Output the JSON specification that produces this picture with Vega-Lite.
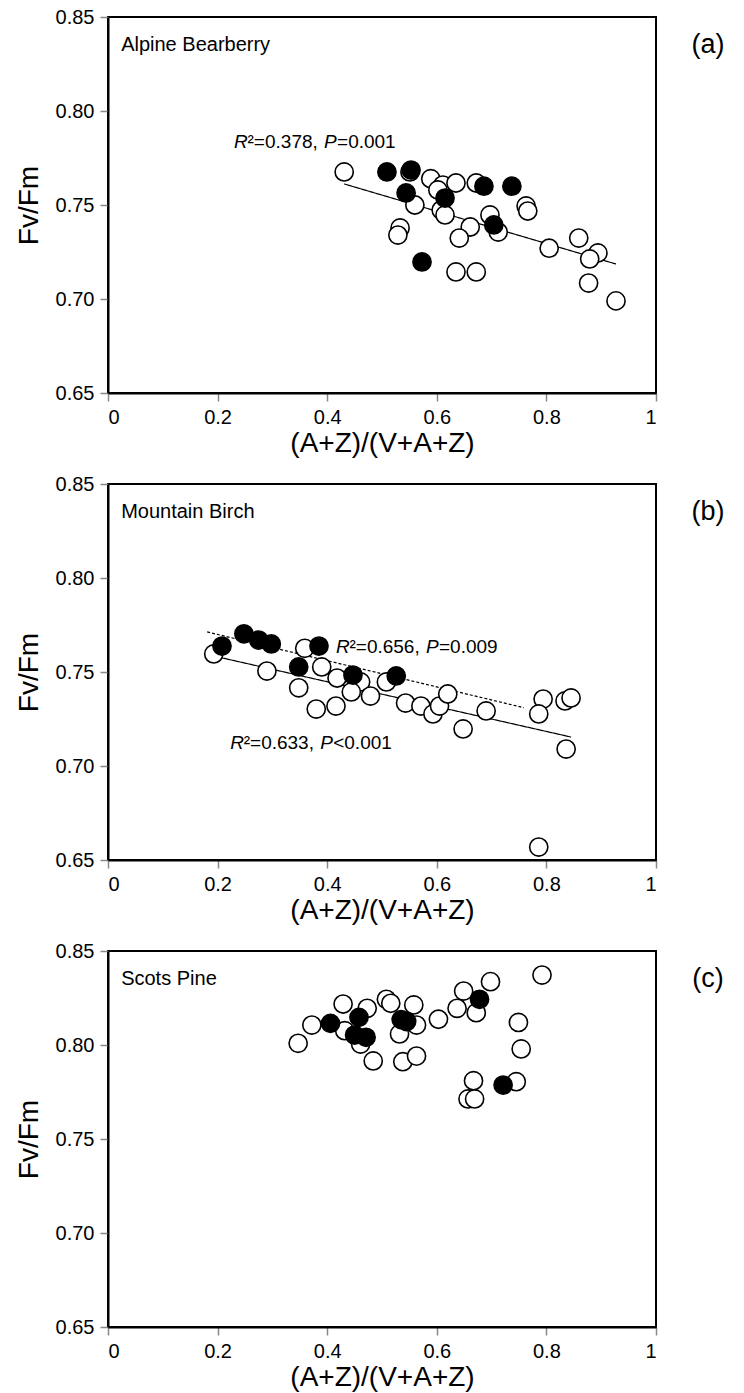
{
  "$schema": "https://vega.github.io/schema/vega-lite/v6.json",
  "padding": {"left": 14, "top": 6, "right": 5, "bottom": 5},
  "spacing": 15,
  "config": {
    "font": "Liberation Sans",
    "view": {"stroke": "black", "strokeWidth": 2},
    "axis": {"grid": false, "domainColor": "black", "domainWidth": 2, "tickColor": "#888888", "tickSize": 8, "tickWidth": 1.5, "labelFontSize": 20, "labelColor": "black", "labelPadding": 6, "titleFontSize": 28, "titleFontWeight": "normal", "titleColor": "black"},
    "axisY": {"titlePadding": 12},
    "axisX": {"titlePadding": 2}
  },
  "datasets": {
    "pts": [
      {"p": "a", "k": "open", "x": 0.431, "y": 0.7676},
      {"p": "a", "k": "open", "x": 0.551, "y": 0.7676},
      {"p": "a", "k": "open", "x": 0.589, "y": 0.764},
      {"p": "a", "k": "open", "x": 0.611, "y": 0.7606},
      {"p": "a", "k": "open", "x": 0.602, "y": 0.758},
      {"p": "a", "k": "open", "x": 0.635, "y": 0.7617},
      {"p": "a", "k": "open", "x": 0.672, "y": 0.7617},
      {"p": "a", "k": "open", "x": 0.56, "y": 0.75},
      {"p": "a", "k": "open", "x": 0.608, "y": 0.7473},
      {"p": "a", "k": "open", "x": 0.615, "y": 0.7447},
      {"p": "a", "k": "open", "x": 0.763, "y": 0.7495},
      {"p": "a", "k": "open", "x": 0.766, "y": 0.7468},
      {"p": "a", "k": "open", "x": 0.697, "y": 0.7447},
      {"p": "a", "k": "open", "x": 0.661, "y": 0.7383},
      {"p": "a", "k": "open", "x": 0.712, "y": 0.7356},
      {"p": "a", "k": "open", "x": 0.533, "y": 0.7378},
      {"p": "a", "k": "open", "x": 0.529, "y": 0.734},
      {"p": "a", "k": "open", "x": 0.641, "y": 0.7324},
      {"p": "a", "k": "open", "x": 0.805, "y": 0.727},
      {"p": "a", "k": "open", "x": 0.859, "y": 0.7324},
      {"p": "a", "k": "open", "x": 0.894, "y": 0.7245},
      {"p": "a", "k": "open", "x": 0.879, "y": 0.7213},
      {"p": "a", "k": "open", "x": 0.635, "y": 0.7144},
      {"p": "a", "k": "open", "x": 0.672, "y": 0.7144},
      {"p": "a", "k": "open", "x": 0.877, "y": 0.7085},
      {"p": "a", "k": "open", "x": 0.927, "y": 0.699},
      {"p": "a", "k": "filled", "x": 0.509, "y": 0.7676},
      {"p": "a", "k": "filled", "x": 0.553, "y": 0.7686},
      {"p": "a", "k": "filled", "x": 0.544, "y": 0.7564},
      {"p": "a", "k": "filled", "x": 0.615, "y": 0.7537},
      {"p": "a", "k": "filled", "x": 0.686, "y": 0.76},
      {"p": "a", "k": "filled", "x": 0.737, "y": 0.76},
      {"p": "a", "k": "filled", "x": 0.704, "y": 0.7394},
      {"p": "a", "k": "filled", "x": 0.573, "y": 0.7197},

      {"p": "b", "k": "open", "x": 0.193, "y": 0.7596},
      {"p": "b", "k": "open", "x": 0.29, "y": 0.7505},
      {"p": "b", "k": "open", "x": 0.348, "y": 0.7416},
      {"p": "b", "k": "open", "x": 0.359, "y": 0.7626},
      {"p": "b", "k": "open", "x": 0.39, "y": 0.7527},
      {"p": "b", "k": "open", "x": 0.418, "y": 0.7468},
      {"p": "b", "k": "open", "x": 0.461, "y": 0.7447},
      {"p": "b", "k": "open", "x": 0.444, "y": 0.7394},
      {"p": "b", "k": "open", "x": 0.479, "y": 0.7372},
      {"p": "b", "k": "open", "x": 0.508, "y": 0.7447},
      {"p": "b", "k": "open", "x": 0.543, "y": 0.7335},
      {"p": "b", "k": "open", "x": 0.38, "y": 0.7303},
      {"p": "b", "k": "open", "x": 0.416, "y": 0.7319},
      {"p": "b", "k": "open", "x": 0.571, "y": 0.7319},
      {"p": "b", "k": "open", "x": 0.593, "y": 0.7277},
      {"p": "b", "k": "open", "x": 0.605, "y": 0.7319},
      {"p": "b", "k": "open", "x": 0.62, "y": 0.7383},
      {"p": "b", "k": "open", "x": 0.648, "y": 0.7197},
      {"p": "b", "k": "open", "x": 0.69, "y": 0.7293},
      {"p": "b", "k": "open", "x": 0.794, "y": 0.7356},
      {"p": "b", "k": "open", "x": 0.786, "y": 0.7277},
      {"p": "b", "k": "open", "x": 0.834, "y": 0.7346},
      {"p": "b", "k": "open", "x": 0.845, "y": 0.7362},
      {"p": "b", "k": "open", "x": 0.836, "y": 0.709},
      {"p": "b", "k": "open", "x": 0.786, "y": 0.6569},
      {"p": "b", "k": "filled", "x": 0.208, "y": 0.7638},
      {"p": "b", "k": "filled", "x": 0.248, "y": 0.7703},
      {"p": "b", "k": "filled", "x": 0.275, "y": 0.767},
      {"p": "b", "k": "filled", "x": 0.298, "y": 0.7649},
      {"p": "b", "k": "filled", "x": 0.348, "y": 0.7527},
      {"p": "b", "k": "filled", "x": 0.385, "y": 0.7638},
      {"p": "b", "k": "filled", "x": 0.447, "y": 0.7484},
      {"p": "b", "k": "filled", "x": 0.526, "y": 0.7479},

      {"p": "c", "k": "open", "x": 0.347, "y": 0.8009},
      {"p": "c", "k": "open", "x": 0.372, "y": 0.8106},
      {"p": "c", "k": "open", "x": 0.429, "y": 0.8218},
      {"p": "c", "k": "open", "x": 0.432, "y": 0.8076},
      {"p": "c", "k": "open", "x": 0.473, "y": 0.8195},
      {"p": "c", "k": "open", "x": 0.461, "y": 0.8005},
      {"p": "c", "k": "open", "x": 0.484, "y": 0.7915},
      {"p": "c", "k": "open", "x": 0.508, "y": 0.8243},
      {"p": "c", "k": "open", "x": 0.516, "y": 0.8222},
      {"p": "c", "k": "open", "x": 0.558, "y": 0.8213},
      {"p": "c", "k": "open", "x": 0.563, "y": 0.8106},
      {"p": "c", "k": "open", "x": 0.532, "y": 0.8059},
      {"p": "c", "k": "open", "x": 0.538, "y": 0.7911},
      {"p": "c", "k": "open", "x": 0.563, "y": 0.7941},
      {"p": "c", "k": "open", "x": 0.603, "y": 0.8137},
      {"p": "c", "k": "open", "x": 0.637, "y": 0.8195},
      {"p": "c", "k": "open", "x": 0.649, "y": 0.8287},
      {"p": "c", "k": "open", "x": 0.698, "y": 0.8337},
      {"p": "c", "k": "open", "x": 0.672, "y": 0.8172},
      {"p": "c", "k": "open", "x": 0.792, "y": 0.8372},
      {"p": "c", "k": "open", "x": 0.749, "y": 0.812},
      {"p": "c", "k": "open", "x": 0.754, "y": 0.7979},
      {"p": "c", "k": "open", "x": 0.667, "y": 0.781},
      {"p": "c", "k": "open", "x": 0.657, "y": 0.7713},
      {"p": "c", "k": "open", "x": 0.669, "y": 0.7713},
      {"p": "c", "k": "open", "x": 0.745, "y": 0.7805},
      {"p": "c", "k": "filled", "x": 0.406, "y": 0.8115},
      {"p": "c", "k": "filled", "x": 0.458, "y": 0.8147},
      {"p": "c", "k": "filled", "x": 0.45, "y": 0.8053},
      {"p": "c", "k": "filled", "x": 0.471, "y": 0.8041},
      {"p": "c", "k": "filled", "x": 0.535, "y": 0.8135},
      {"p": "c", "k": "filled", "x": 0.545, "y": 0.8125},
      {"p": "c", "k": "filled", "x": 0.678, "y": 0.8243},
      {"p": "c", "k": "filled", "x": 0.721, "y": 0.7787}
    ],
    "fits": [
      {"p": "a", "d": "solid", "x": 0.431, "y": 0.7612, "x2": 0.927, "y2": 0.7186},
      {"p": "b", "d": "solid", "x": 0.193, "y": 0.7585, "x2": 0.845, "y2": 0.7154},
      {"p": "b", "d": "dashed", "x": 0.181, "y": 0.7713, "x2": 0.759, "y2": 0.731}
    ],
    "ann": [
      {"p": "a", "x": 0.23, "y": 0.7835, "r": "R", "s": "²=0.378,", "q": "P", "v": "=0.001"},
      {"p": "b", "x": 0.416, "y": 0.7633, "r": "R", "s": "²=0.656,", "q": "P", "v": "=0.009"},
      {"p": "b", "x": 0.223, "y": 0.7122, "r": "R", "s": "²=0.633,", "q": "P", "v": "<0.001"}
    ],
    "names": [
      {"p": "a", "x": 0.024, "y": 0.835, "name": "Alpine Bearberry", "tag": "(a)"},
      {"p": "b", "x": 0.024, "y": 0.835, "name": "Mountain Birch", "tag": "(b)"},
      {"p": "c", "x": 0.024, "y": 0.835, "name": "Scots Pine", "tag": "(c)"}
    ]
  },
  "vconcat": [
    {
      "width": 548, "height": 376,
      "layer": [
        {"data": {"name": "fits"}, "transform": [{"filter": "datum.p === 'a'"}],
         "mark": {"type": "rule", "color": "black", "strokeWidth": 1.2},
         "encoding": {
           "x": {"field": "x", "type": "quantitative", "scale": {"domain": [0, 1], "nice": false}, "axis": {"values": [0, 0.2, 0.4, 0.6, 0.8, 1], "format": "~g", "title": "(A+Z)/(V+A+Z)"}},
           "y": {"field": "y", "type": "quantitative", "scale": {"domain": [0.65, 0.85], "nice": false, "zero": false}, "axis": {"values": [0.65, 0.7, 0.75, 0.8, 0.85], "format": ".2f", "title": "Fv/Fm"}},
           "x2": {"field": "x2"}, "y2": {"field": "y2"},
           "strokeDash": {"field": "d", "type": "nominal", "scale": {"domain": ["solid", "dashed"], "range": [[1, 0], [3, 2]]}, "legend": null}
         }},
        {"data": {"name": "pts"}, "transform": [{"filter": "datum.p === 'a'"}],
         "mark": {"type": "point", "shape": "circle", "size": 330, "stroke": "black", "strokeWidth": 1.6, "opacity": 1},
         "encoding": {
           "x": {"field": "x", "type": "quantitative"},
           "y": {"field": "y", "type": "quantitative"},
           "fill": {"field": "k", "type": "nominal", "scale": {"domain": ["open", "filled"], "range": ["white", "black"]}, "legend": null}
         }},
        {"data": {"name": "ann"}, "transform": [{"filter": "datum.p === 'a'"}],
         "mark": {"type": "text", "align": "left", "baseline": "middle", "fontSize": 19, "fontStyle": "italic"},
         "encoding": {"x": {"field": "x", "type": "quantitative"}, "y": {"field": "y", "type": "quantitative"}, "text": {"field": "r"}}},
        {"data": {"name": "ann"}, "transform": [{"filter": "datum.p === 'a'"}],
         "mark": {"type": "text", "align": "left", "baseline": "middle", "fontSize": 19, "dx": 13.5},
         "encoding": {"x": {"field": "x", "type": "quantitative"}, "y": {"field": "y", "type": "quantitative"}, "text": {"field": "s"}}},
        {"data": {"name": "ann"}, "transform": [{"filter": "datum.p === 'a'"}],
         "mark": {"type": "text", "align": "left", "baseline": "middle", "fontSize": 19, "fontStyle": "italic", "dx": 90},
         "encoding": {"x": {"field": "x", "type": "quantitative"}, "y": {"field": "y", "type": "quantitative"}, "text": {"field": "q"}}},
        {"data": {"name": "ann"}, "transform": [{"filter": "datum.p === 'a'"}],
         "mark": {"type": "text", "align": "left", "baseline": "middle", "fontSize": 19, "dx": 103},
         "encoding": {"x": {"field": "x", "type": "quantitative"}, "y": {"field": "y", "type": "quantitative"}, "text": {"field": "v"}}},
        {"data": {"name": "names"}, "transform": [{"filter": "datum.p === 'a'"}],
         "mark": {"type": "text", "align": "left", "baseline": "middle", "fontSize": 20},
         "encoding": {"x": {"field": "x", "type": "quantitative"}, "y": {"field": "y", "type": "quantitative"}, "text": {"field": "name"}}},
        {"data": {"name": "names"}, "transform": [{"filter": "datum.p === 'a'"}],
         "mark": {"type": "text", "align": "center", "baseline": "middle", "fontSize": 27},
         "encoding": {"x": {"datum": 1.095, "type": "quantitative"}, "y": {"field": "y", "type": "quantitative"}, "text": {"field": "tag"}}}
      ]
    },
    {
      "width": 548, "height": 376,
      "layer": [
        {"data": {"name": "fits"}, "transform": [{"filter": "datum.p === 'b'"}],
         "mark": {"type": "rule", "color": "black", "strokeWidth": 1.2},
         "encoding": {
           "x": {"field": "x", "type": "quantitative", "scale": {"domain": [0, 1], "nice": false}, "axis": {"values": [0, 0.2, 0.4, 0.6, 0.8, 1], "format": "~g", "title": "(A+Z)/(V+A+Z)"}},
           "y": {"field": "y", "type": "quantitative", "scale": {"domain": [0.65, 0.85], "nice": false, "zero": false}, "axis": {"values": [0.65, 0.7, 0.75, 0.8, 0.85], "format": ".2f", "title": "Fv/Fm"}},
           "x2": {"field": "x2"}, "y2": {"field": "y2"},
           "strokeDash": {"field": "d", "type": "nominal", "scale": {"domain": ["solid", "dashed"], "range": [[1, 0], [3, 2]]}, "legend": null}
         }},
        {"data": {"name": "pts"}, "transform": [{"filter": "datum.p === 'b'"}],
         "mark": {"type": "point", "shape": "circle", "size": 330, "stroke": "black", "strokeWidth": 1.6, "opacity": 1},
         "encoding": {
           "x": {"field": "x", "type": "quantitative"},
           "y": {"field": "y", "type": "quantitative"},
           "fill": {"field": "k", "type": "nominal", "scale": {"domain": ["open", "filled"], "range": ["white", "black"]}, "legend": null}
         }},
        {"data": {"name": "ann"}, "transform": [{"filter": "datum.p === 'b'"}],
         "mark": {"type": "text", "align": "left", "baseline": "middle", "fontSize": 19, "fontStyle": "italic"},
         "encoding": {"x": {"field": "x", "type": "quantitative"}, "y": {"field": "y", "type": "quantitative"}, "text": {"field": "r"}}},
        {"data": {"name": "ann"}, "transform": [{"filter": "datum.p === 'b'"}],
         "mark": {"type": "text", "align": "left", "baseline": "middle", "fontSize": 19, "dx": 13.5},
         "encoding": {"x": {"field": "x", "type": "quantitative"}, "y": {"field": "y", "type": "quantitative"}, "text": {"field": "s"}}},
        {"data": {"name": "ann"}, "transform": [{"filter": "datum.p === 'b'"}],
         "mark": {"type": "text", "align": "left", "baseline": "middle", "fontSize": 19, "fontStyle": "italic", "dx": 90},
         "encoding": {"x": {"field": "x", "type": "quantitative"}, "y": {"field": "y", "type": "quantitative"}, "text": {"field": "q"}}},
        {"data": {"name": "ann"}, "transform": [{"filter": "datum.p === 'b'"}],
         "mark": {"type": "text", "align": "left", "baseline": "middle", "fontSize": 19, "dx": 103},
         "encoding": {"x": {"field": "x", "type": "quantitative"}, "y": {"field": "y", "type": "quantitative"}, "text": {"field": "v"}}},
        {"data": {"name": "names"}, "transform": [{"filter": "datum.p === 'b'"}],
         "mark": {"type": "text", "align": "left", "baseline": "middle", "fontSize": 20},
         "encoding": {"x": {"field": "x", "type": "quantitative"}, "y": {"field": "y", "type": "quantitative"}, "text": {"field": "name"}}},
        {"data": {"name": "names"}, "transform": [{"filter": "datum.p === 'b'"}],
         "mark": {"type": "text", "align": "center", "baseline": "middle", "fontSize": 27},
         "encoding": {"x": {"datum": 1.095, "type": "quantitative"}, "y": {"field": "y", "type": "quantitative"}, "text": {"field": "tag"}}}
      ]
    },
    {
      "width": 548, "height": 376,
      "layer": [
        {"data": {"name": "pts"}, "transform": [{"filter": "datum.p === 'c'"}],
         "mark": {"type": "point", "shape": "circle", "size": 330, "stroke": "black", "strokeWidth": 1.6, "opacity": 1},
         "encoding": {
           "x": {"field": "x", "type": "quantitative", "scale": {"domain": [0, 1], "nice": false}, "axis": {"values": [0, 0.2, 0.4, 0.6, 0.8, 1], "format": "~g", "title": "(A+Z)/(V+A+Z)"}},
           "y": {"field": "y", "type": "quantitative", "scale": {"domain": [0.65, 0.85], "nice": false, "zero": false}, "axis": {"values": [0.65, 0.7, 0.75, 0.8, 0.85], "format": ".2f", "title": "Fv/Fm"}},
           "fill": {"field": "k", "type": "nominal", "scale": {"domain": ["open", "filled"], "range": ["white", "black"]}, "legend": null}
         }},
        {"data": {"name": "names"}, "transform": [{"filter": "datum.p === 'c'"}],
         "mark": {"type": "text", "align": "left", "baseline": "middle", "fontSize": 20},
         "encoding": {"x": {"field": "x", "type": "quantitative"}, "y": {"field": "y", "type": "quantitative"}, "text": {"field": "name"}}},
        {"data": {"name": "names"}, "transform": [{"filter": "datum.p === 'c'"}],
         "mark": {"type": "text", "align": "center", "baseline": "middle", "fontSize": 27},
         "encoding": {"x": {"datum": 1.095, "type": "quantitative"}, "y": {"field": "y", "type": "quantitative"}, "text": {"field": "tag"}}}
      ]
    }
  ]
}
